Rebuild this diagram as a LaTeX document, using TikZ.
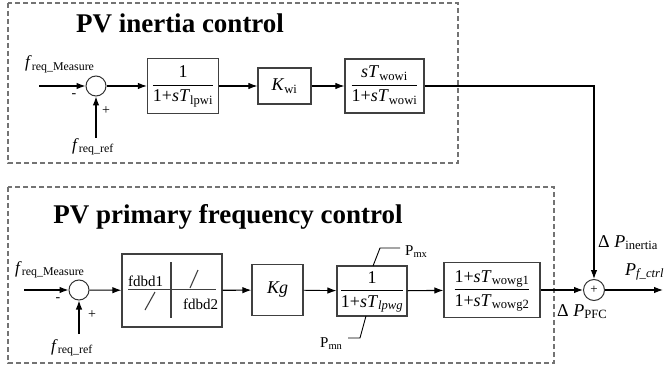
\documentclass[tikz,border=0pt]{standalone}
\usepackage{fontspec}
\setmainfont{Liberation Serif}
\usetikzlibrary{arrows.meta}

% transfer-function fraction: numerator over a rule over denominator
\newcommand{\fr}[2]{\begin{tabular}{@{}c@{}}#1\\[1pt]\hline\rule{0pt}{16pt}#2\end{tabular}}
\newcommand{\sbs}[1]{\textsubscript{#1}}
\newcommand{\freq}[1]{\textit{f}\sbs{req\_#1}}
\setlength{\arrayrulewidth}{1pt}

\begin{document}
\begin{tikzpicture}[x=1pt,y=-1pt,
  blk/.style={draw=black!75, line width=1.2pt, inner sep=0pt, fill=white,
              font=\fontsize{18}{20}\selectfont},
  sumc/.style={circle, draw=black!80, line width=1pt, minimum size=20pt, inner sep=0pt},
  sig/.style={line width=1.1pt, -{Latex[length=9pt,width=6.5pt]}},
  wire/.style={line width=1.1pt},
  grp/.style={draw=black!55, line width=1.8pt, dash pattern=on 5pt off 3pt},
  ttl/.style={font=\fontsize{27}{30}\selectfont\bfseries, anchor=base, inner sep=0pt},
  lbl/.style={font=\fontsize{17}{19}\selectfont, inner sep=0pt},
  sgn/.style={font=\fontsize{14}{14}\selectfont, inner sep=0pt},
  lim/.style={font=\fontsize{15}{17}\selectfont, inner sep=0pt, anchor=base west}]
\useasboundingbox (0,0) rectangle (668,366);

% group frames and titles
\draw[grp] (8,3) rectangle (458,163);
\draw[grp] (8,187) rectangle (554,363);
\node[ttl] (t1) at (180,33) {PV inertia control};
\node[ttl] (t2) at (228,223) {PV primary frequency control};

% ---------- inertia path ----------
\coordinate (in1) at (39,86);
\coordinate (r1) at (96,138);
\node[sumc] (s1) at (96,86) {};
\node[blk, minimum width=71pt, minimum height=55pt] (lp1) at (183,86)
  {\fr{1}{1+\textit{sT}\sbs{lpwi}}};
\node[blk, minimum width=53pt, minimum height=36pt] (kwi) at (284.5,86)
  {\textit{K}\sbs{wi}};
\node[blk, minimum width=79pt, minimum height=54pt] (wo1) at (384.5,86)
  {\fr{\textit{sT}\sbs{wowi}}{1+\textit{sT}\sbs{wowi}}};

\node[lbl, anchor=base west] (m1) at (25,68) {\freq{Measure}};
\node[lbl, anchor=base] (f1) at (93,150) {\freq{ref}};
\node[sgn] (n1) at (74,96) {-};
\node[sgn] (p1) at (106,111) {+};

\draw[sig] (in1) -- (s1.west);
\draw[sig] (r1) -- (s1.south);
\draw[sig] (s1) -- (lp1);
\draw[sig] (lp1) -- (kwi);
\draw[sig] (kwi) -- (wo1);

% ---------- primary frequency path ----------
\coordinate (in2) at (24,290);
\coordinate (r2) at (79,334);
\node[sumc] (s2) at (79,290) {};
\node[blk, minimum width=100pt, minimum height=73pt] (db) at (172,290.5) {};
\node[blk, minimum width=51pt, minimum height=51pt] (kg) at (277.5,290)
  {\textit{Kg}};
\node[blk, minimum width=70pt, minimum height=50pt] (lp2) at (372,291)
  {\fr{1}{1+\textit{sT}\sbs{\itshape lpwg}}};
\node[blk, minimum width=96pt, minimum height=55pt] (wo2) at (492,290)
  {\fr{1+\textit{sT}\sbs{wowg1}}{1+\textit{sT}\sbs{wowg2}}};
\node[sumc, minimum size=21pt] (s3) at (594,290) {\fontsize{13}{13}\selectfont +};
\coordinate (out) at (663,290);

\node[lbl, anchor=base west] (m2) at (15,273) {\freq{Measure}};
\node[lbl, anchor=base] (f2) at (72,351) {\freq{ref}};
\node[sgn] (n2) at (58,300) {-};
\node[sgn] (p2) at (92,315) {+};

% dead-band characteristic
\draw[wire, draw=black!75] (128,289.5) -- (216,289.5);
\draw[wire, draw=black!75] (171,262) -- (171,318);
\draw[wire, draw=black!75] (145,310) -- (155,292);
\draw[wire, draw=black!75] (190,288) -- (198,270);
\node[lim] (d1) at (128,286.5) {fdbd1};
\node[lim] (d2) at (183,309) {fdbd2};

% output limits
\coordinate (mx1) at (373,266);
\coordinate (mx2) at (380,248);
\coordinate (mx3) at (400,248);
\coordinate (mn1) at (366,316);
\coordinate (mn2) at (360,338);
\coordinate (mn3) at (348,338);
\draw[line width=0.9pt] (mx1) -- (mx2) -- (mx3);
\draw[line width=0.9pt] (mn1) -- (mn2) -- (mn3);
\node[lim] (pmx) at (405,255) {P\sbs{mx}};
\node[lim] (pmn) at (320,347) {P\sbs{mn}};

\draw[sig] (in2) -- (s2.west);
\draw[sig] (r2) -- (s2.south);
\draw[sig] (s2) -- (db);
\draw[sig] (db) -- (kg);
\draw[sig, line width=0.9pt] (kg) -- (lp2);
\draw[sig] (lp2) -- (wo2);
\draw[sig] (wo2) -- (s3);
\draw[sig] (wo1.east) -| (s3.north);
\draw[sig] (s3) -- (out);

\node[font=\fontsize{18}{20}\selectfont, inner sep=0pt, anchor=base west] (dpi) at (598,247)
  {Δ \textit{P}\sbs{inertia}};
\node[font=\fontsize{18}{20}\selectfont, inner sep=0pt, anchor=base west] (dpp) at (557,316)
  {Δ \textit{P}\sbs{PFC}};
\node[font=\fontsize{18}{20}\selectfont, inner sep=0pt, anchor=base west] (pout) at (625,275)
  {\textit{P}\sbs{\itshape f\_ctrl}};
\end{tikzpicture}
\end{document}
